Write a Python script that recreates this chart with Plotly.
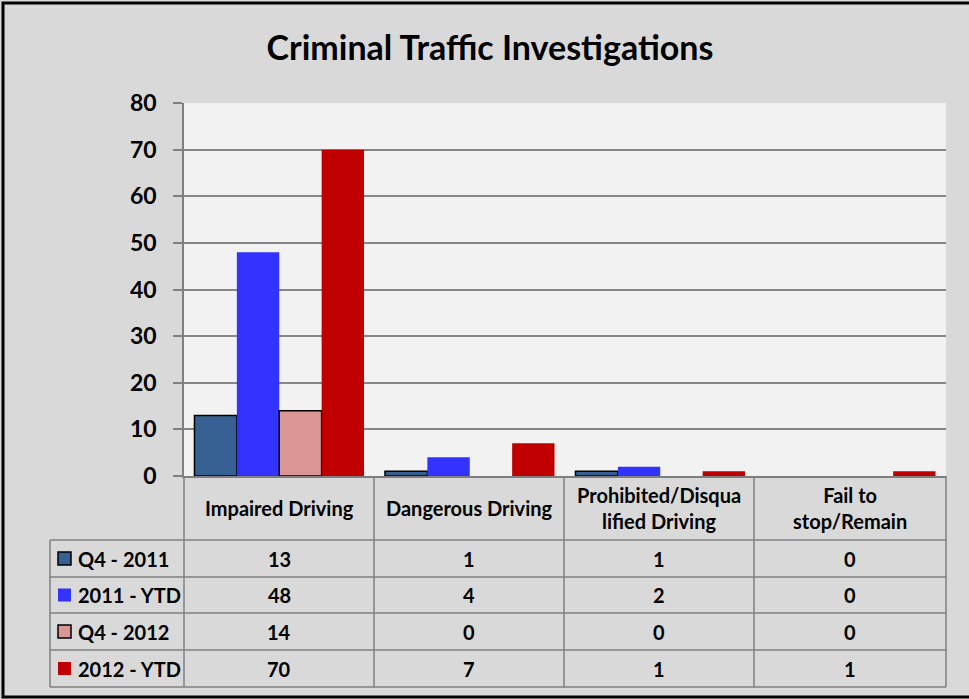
import plotly.graph_objs as go

# Chart data
categories = ['Impaired Driving', 'Dangerous Driving', 'Prohibited/Disqualified Driving', 'Fail to stop/Remain']
header_labels = ['Impaired Driving', 'Dangerous Driving', 'Prohibited/Disqua<br>lified Driving', 'Fail to<br>stop/Remain']
series_names = ['Q4 - 2011', '2011 - YTD', 'Q4 - 2012', '2012 - YTD']
q4_2011 = [13, 1, 1, 0]
ytd_2011 = [48, 4, 2, 0]
q4_2012 = [14, 0, 0, 0]
ytd_2012 = [70, 7, 1, 1]
y_ticks = [0, 10, 20, 30, 40, 50, 60, 70, 80]

series_values = [q4_2011, ytd_2011, q4_2012, ytd_2012]
colors = ['#376092', '#3333ff', '#d99694', '#c00000']
outlined = [True, False, True, False]

W, H = 969, 699
L, R, T, B = 184, 946, 103, 476
FONT = 'Lato'
cell_font = dict(family=FONT, size=20, color='black', weight='bold')


# pixel -> paper coordinates
def px(x):
    return (x - L) / (R - L)


def py(y):
    return (B - y) / (B - T)


fig = go.Figure()

for name, vals, col, ol in zip(series_names, series_values, colors, outlined):
    # no outline on zero-height bars, like Excel
    widths = [1.5 if (ol and v > 0) else 0 for v in vals]
    fig.add_trace(go.Bar(
        x=categories,
        y=vals,
        name=name,
        marker=dict(color=col, line=dict(color='black' if ol else col, width=widths)),
    ))

shapes = []
annotations = []

# Table grid
row_lines = [476, 540, 577, 613, 650, 687]
col_lines = [184, 374, 564, 754, 946]
line_style = dict(color='#7f7f7f', width=1.5)

for y in row_lines[1:]:
    shapes.append(dict(type='line', xref='paper', yref='paper',
                       x0=px(50), x1=px(946), y0=py(y), y1=py(y), line=line_style))
for x in col_lines:
    shapes.append(dict(type='line', xref='paper', yref='paper',
                       x0=px(x), x1=px(x), y0=py(476), y1=py(687), line=line_style))
shapes.append(dict(type='line', xref='paper', yref='paper',
                   x0=px(50), x1=px(50), y0=py(540), y1=py(687), line=line_style))

# Header cells
for i, lab in enumerate(header_labels):
    cx = (col_lines[i] + col_lines[i + 1]) / 2
    annotations.append(dict(xref='paper', yref='paper', x=px(cx), y=py(508),
                            xanchor='center', yanchor='middle',
                            text=lab, showarrow=False, font=cell_font))

# Data rows with legend keys
for r, (name, vals, col, ol) in enumerate(zip(series_names, series_values, colors, outlined)):
    y0, y1 = row_lines[r + 1], row_lines[r + 2]
    cy = (y0 + y1) / 2
    shapes.append(dict(type='rect', xref='paper', yref='paper',
                       x0=px(58), x1=px(71), y0=py(cy - 6.5), y1=py(cy + 6.5),
                       fillcolor=col, line=dict(color='black' if ol else col, width=1.5 if ol else 0)))
    annotations.append(dict(xref='paper', yref='paper', x=px(76), y=py(cy),
                            xanchor='left', yanchor='middle',
                            text=name, showarrow=False, font=cell_font))
    for i, v in enumerate(vals):
        cx = (col_lines[i] + col_lines[i + 1]) / 2
        annotations.append(dict(xref='paper', yref='paper', x=px(cx), y=py(cy),
                                xanchor='center', yanchor='middle',
                                text=str(v), showarrow=False, font=cell_font))

# Outer frame (right side runs off the picture)
shapes.append(dict(type='rect', xref='paper', yref='paper',
                   x0=px(3), x1=px(1000), y0=py(3), y1=py(697),
                   line=dict(color='black', width=3), layer='above'))

fig.update_layout(
    width=W, height=H,
    margin=dict(l=L, r=W - R, t=T, b=H - B, pad=0),
    paper_bgcolor='#d9d9d9',
    plot_bgcolor='#f2f2f2',
    barmode='group',
    bargap=0.11,
    bargroupgap=0,
    showlegend=False,
    title=dict(text='Criminal Traffic Investigations', x=px(490), xref='paper',
               y=1 - 48 / H, yref='container', xanchor='center', yanchor='middle',
               font=dict(family=FONT, size=34, color='black', weight='bold')),
    xaxis=dict(showticklabels=False, showgrid=False, linecolor='#7f7f7f', linewidth=1.5,
               showline=True, ticks=''),
    yaxis=dict(range=[0, 80], tickvals=y_ticks, ticks='outside', ticklen=9,
               tickcolor='#7f7f7f', tickwidth=1.5, showline=True, linecolor='#7f7f7f',
               linewidth=1.5, gridcolor='#868686', gridwidth=1.5, zeroline=False,
               tickfont=dict(family=FONT, size=23, color='black', weight='bold'),
               ticklabelstandoff=12),
    shapes=shapes,
    annotations=annotations,
)

fig.write_html("out.html", config={'displayModeBar': False},
               post_script="document.body.style.margin='0';")
